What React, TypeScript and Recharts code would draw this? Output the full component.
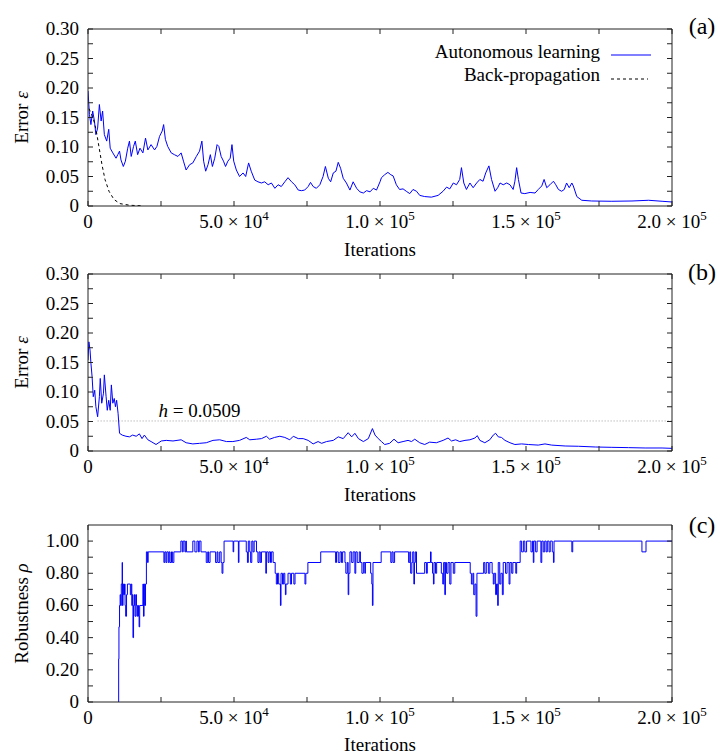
import React from "react";
import { LineChart, Line, XAxis, YAxis, ReferenceLine } from "recharts";

const FONT = "Liberation Serif";
const INK = "#000";
const FRAME = "#222";
const BLUE = "#0000ff";

// (a) autonomous learning error
const autoIterA = [
  0, 500, 1000, 1600, 2200, 2700, 3300, 3900, 4500, 5000,
  5600, 6400, 7100, 7600, 8500, 9600, 10200, 10800, 11300, 12100,
  12800, 13600, 14200, 14800, 15600, 16200, 17000, 17800, 18800, 19700,
  20500, 21600, 22800, 23600, 24500, 25400, 25900, 26500, 27300, 28500,
  29600, 30800, 31900, 32700, 33600, 34800, 35900, 37100, 38200, 39000,
  39600, 40300, 41100, 41900, 42600, 43400, 44200, 44800, 45600, 46400,
  47100, 47900, 48700, 49300, 49900, 50800, 51900, 53100, 54000, 55000,
  55900, 57100, 58200, 59400, 60500, 61700, 62800, 64000, 65100, 66200,
  67400, 68500, 69700, 70800, 72000, 73100, 74200, 75400, 76200, 77100,
  78200, 79400, 80500, 81300, 82300, 83100, 84000, 84900, 85700, 86500,
  87400, 88500, 89700, 90800, 92000, 93100, 94300, 95400, 96600, 97700,
  98800, 100000,
  100500, 101600, 102700, 103700, 104500, 105600, 106700, 107900, 109000, 110200,
  111300, 112500, 113600, 115300, 117600, 119900, 121600, 122800, 123900, 125100,
  126200, 127300, 127900, 128700, 129600, 130800, 131900, 133100, 134200, 135300,
  136200, 137300, 138200, 139400, 140300, 141100, 142200, 143400, 144500, 145600,
  146200, 146800, 147400, 148300, 149600, 151400, 153100, 154200, 155400, 156200,
  157100, 158200, 159400, 160200, 161100, 162200, 163100, 163900, 164800, 165700,
  166200, 167400, 169100, 172500, 179400, 186300, 192000, 196600, 200000,
];
const autoErrA = [
  0.195, 0.155, 0.138, 0.161, 0.144, 0.121, 0.132, 0.172, 0.144, 0.161,
  0.121, 0.11, 0.13, 0.098, 0.09, 0.081, 0.087, 0.093, 0.078, 0.067,
  0.076, 0.098, 0.11, 0.084, 0.101, 0.11, 0.087, 0.098, 0.09, 0.115,
  0.095, 0.104, 0.095, 0.101, 0.118, 0.127, 0.138, 0.113, 0.101, 0.09,
  0.087, 0.084, 0.09, 0.076, 0.061, 0.07, 0.073, 0.084, 0.093, 0.11,
  0.076, 0.059, 0.07, 0.087, 0.067, 0.081, 0.104, 0.101, 0.084, 0.076,
  0.067, 0.076, 0.081, 0.104, 0.076, 0.061, 0.05, 0.056, 0.05, 0.073,
  0.059, 0.044, 0.041, 0.039, 0.041, 0.036, 0.039, 0.03, 0.036, 0.033,
  0.041, 0.048, 0.041, 0.036, 0.027, 0.026, 0.027, 0.033, 0.04, 0.033,
  0.03, 0.036, 0.05, 0.067, 0.047, 0.041, 0.056, 0.059, 0.074, 0.064,
  0.047, 0.039, 0.027, 0.041, 0.03, 0.024, 0.022, 0.026, 0.024, 0.03,
  0.027, 0.041,
  0.048, 0.053, 0.057, 0.053, 0.051, 0.036, 0.028, 0.029, 0.025, 0.021,
  0.028, 0.025, 0.018, 0.016, 0.015, 0.018, 0.025, 0.032, 0.029, 0.039,
  0.036, 0.045, 0.065, 0.039, 0.028, 0.039, 0.031, 0.039, 0.045, 0.042,
  0.056, 0.068, 0.045, 0.025, 0.031, 0.039, 0.036, 0.039, 0.036, 0.028,
  0.042, 0.065, 0.045, 0.022, 0.021, 0.023, 0.022, 0.028, 0.034, 0.045,
  0.031, 0.036, 0.042, 0.036, 0.028, 0.025, 0.028, 0.039, 0.031, 0.039,
  0.034, 0.016, 0.0097, 0.0085, 0.008, 0.0085, 0.0097, 0.008, 0.0068,
];

// (a) back-propagation error
const bpIter = [340, 1700, 2740, 3770, 4790, 5820, 7190, 8900, 10960, 14380, 18840];
const bpErr = [0.165, 0.15, 0.13, 0.1, 0.07, 0.045, 0.025, 0.011, 0.004, 0.0012, 0.0003];

// (b) error with threshold
const iterB = [
  0, 300, 700, 1000, 1400, 1800, 2300, 2700, 3300, 3900,
  4200, 4700, 5300, 5600, 6200, 6600, 7100, 7600, 8000, 8500,
  9000, 9400, 9800, 10300, 10800, 11700, 13000, 14200, 15300, 16500,
  17600, 18500, 19300, 20500, 21600, 23300, 25100, 26800, 29100, 31900,
  33600, 35900, 38200, 40500, 42800, 45100, 47400, 49600, 51900, 54200,
  55400, 57700, 59400, 61100, 62200, 63900, 65700, 67400, 69100, 70300,
  72000, 73700, 75400, 77100, 78800, 80000, 81700, 84000, 85700, 87400,
  89100, 90300, 91400, 92600, 94300, 96000, 97400, 98300, 99400,
  100500, 101600, 103300, 104800, 106200, 107900, 109600, 110800, 111900, 113600,
  115300, 117000, 119300, 121600, 123300, 124500, 125900, 127300, 129100, 130800,
  132500, 133300, 134200, 135900, 137600, 138800, 139600, 140500, 141600, 142800,
  144500, 146200, 148500, 150800, 154200, 156500, 158800, 163400, 168000, 173700,
  179400, 185100, 190800, 196600, 200000,
];
const errB = [
  0.154, 0.185, 0.171, 0.149, 0.126, 0.092, 0.103, 0.075, 0.058, 0.092,
  0.123, 0.081, 0.098, 0.129, 0.092, 0.069, 0.086, 0.069, 0.112, 0.081,
  0.089, 0.075, 0.086, 0.064, 0.03, 0.027, 0.025, 0.024, 0.027, 0.025,
  0.029, 0.021, 0.027, 0.019, 0.016, 0.011, 0.017, 0.018, 0.017, 0.019,
  0.014, 0.012, 0.013, 0.014, 0.018, 0.019, 0.016, 0.016, 0.018, 0.023,
  0.019, 0.02, 0.021, 0.025, 0.02, 0.023, 0.025, 0.023, 0.019, 0.025,
  0.021, 0.021, 0.018, 0.012, 0.016, 0.013, 0.016, 0.018, 0.024, 0.021,
  0.031, 0.024, 0.03, 0.021, 0.016, 0.021, 0.038, 0.027, 0.021,
  0.016, 0.011, 0.013, 0.02, 0.014, 0.016, 0.018, 0.016, 0.02, 0.014,
  0.011, 0.015, 0.014, 0.018, 0.022, 0.017, 0.019, 0.016, 0.018, 0.019,
  0.022, 0.026, 0.018, 0.014, 0.019, 0.027, 0.03, 0.024, 0.023, 0.018,
  0.014, 0.011, 0.012, 0.011, 0.01, 0.012, 0.01, 0.0085, 0.008, 0.0068,
  0.0062, 0.0057, 0.0051, 0.0051, 0.0045,
];
const threshold = 0.0509;

// (c) robustness (step series)
const iterC = [
  10400, 10500, 10600, 10800, 11000, 11200, 11400, 11700, 11800, 12000,
  12200, 12500, 12700, 12900, 13200, 13500, 14500, 14800, 15000, 15200,
  15400, 15600, 15900, 16100, 16400, 16600, 16800, 17000, 17300, 17500,
  17700, 18800, 19000, 19200, 19400, 19700, 20000, 20400, 20600, 26000,
  26300, 26700, 27000, 27500, 27800, 28100, 28600, 28900, 29400, 31800,
  32300, 32600, 33200, 33500, 33700, 35900, 36600, 37300, 37800, 38100,
  38700, 40500, 41000, 41300, 41800, 43700, 44200, 44500, 45100, 45600,
  45900, 46200, 46600, 49700, 49900, 51500, 51700, 54200, 54600, 54900,
  55400, 55700, 56100, 56500, 56900, 57700, 58200, 58600, 59000, 59400,
  60900, 61100, 61700, 62000, 62500, 62800, 63400, 64100, 64500, 64900,
  65300, 65900, 66100, 66600, 67000, 67400, 67600, 67800, 68500, 69300,
  69700, 70500, 70900, 74300, 74600, 75300, 79700, 84800, 85100, 85700,
  86300, 86800, 87200, 88000, 88300, 88800, 89100, 89300, 89700, 90300,
  90800, 91400, 91700, 92200, 92900, 93300, 93800, 94300, 94800, 95000,
  96800, 97200, 97400, 97600, 100400, 103700, 104100, 104500, 105000, 109800,
  110200, 110500, 110900, 111200, 111600, 111800, 112100, 112500, 115300, 115900,
  116200, 117300, 117500, 118000, 118300, 118500, 119000, 119400, 121000, 121500,
  121800, 122200, 122400, 122800, 123300, 123900, 124300, 125100, 125600, 130900,
  131300, 131800, 132100, 132500, 132900, 133200, 135500, 135900, 136400, 137100,
  137600, 138400, 138800, 139100, 139600, 139900, 140300, 140500, 141000, 141400,
  141900, 142200, 143000, 143500, 144200, 144500, 145100, 145500, 146500, 146800,
  148000, 148500, 149100, 149600, 150200, 151700, 152200, 152500, 152700, 153300,
  153800, 155100, 155400, 155900, 156400, 156900, 157300, 157900, 158300, 159000,
  159400, 159600, 165700, 166000, 189700, 191100, 200000,
];
const robC = [
  0, 0.267, 0.467, 0.6, 0.667, 0.6, 0.733, 0.867, 0.6, 0.733,
  0.667, 0.733, 0.6, 0.533, 0.667, 0.733, 0.667, 0.733, 0.6, 0.667,
  0.4, 0.6, 0.667, 0.533, 0.667, 0.6, 0.533, 0.6, 0.533, 0.467,
  0.6, 0.733, 0.533, 0.733, 0.6, 0.733, 0.933, 0.867, 0.933, 0.867,
  0.933, 0.867, 0.933, 0.867, 0.933, 0.867, 0.933, 0.867, 0.933, 1,
  0.933, 1, 0.933, 1, 0.933, 1, 0.933, 1, 0.933, 1,
  0.933, 0.867, 0.933, 0.867, 0.933, 0.867, 0.933, 0.867, 0.933, 0.867,
  0.8, 0.867, 1, 0.933, 1, 0.867, 1, 0.933, 0.867, 1,
  0.933, 0.867, 1, 0.933, 1, 0.933, 0.867, 0.933, 0.867, 0.933,
  0.8, 0.933, 0.867, 0.933, 0.867, 0.933, 0.867, 0.8, 0.733, 0.8,
  0.733, 0.6, 0.8, 0.733, 0.8, 0.733, 0.667, 0.733, 0.8, 0.733,
  0.8, 0.733, 0.8, 0.733, 0.8, 0.867, 0.933, 0.867, 0.933, 0.867,
  0.933, 0.867, 0.933, 0.867, 0.8, 0.867, 0.667, 0.8, 0.933, 0.867,
  0.933, 0.8, 0.933, 0.867, 0.933, 0.867, 0.8, 0.867, 0.8, 0.867,
  0.8, 0.733, 0.6, 0.867, 0.933, 0.867, 0.933, 0.867, 0.933, 0.867,
  0.933, 0.8, 0.867, 0.933, 0.733, 0.867, 0.933, 0.8, 0.867, 0.8,
  0.867, 0.933, 0.867, 0.8, 0.733, 0.867, 0.8, 0.867, 0.8, 0.733,
  0.867, 0.667, 0.867, 0.8, 0.867, 0.733, 0.867, 0.8, 0.867, 0.8,
  0.733, 0.8, 0.667, 0.733, 0.533, 0.8, 0.867, 0.8, 0.867, 0.8,
  0.867, 0.8, 0.733, 0.8, 0.667, 0.733, 0.6, 0.867, 0.733, 0.8,
  0.667, 0.867, 0.8, 0.867, 0.733, 0.867, 0.8, 0.867, 0.8, 0.867,
  1, 0.933, 1, 0.933, 1, 0.933, 1, 0.867, 1, 0.933,
  1, 0.867, 1, 0.933, 1, 0.933, 1, 0.933, 1, 0.933,
  0.867, 1, 0.933, 1, 0.933, 1, 1,
];

// axes
const xTicks = [0, 25000, 50000, 75000, 100000, 125000, 150000, 175000, 200000];
const xLabelAt = [0, 50000, 100000, 150000, 200000];
const xLabelMant = ["0", "5.0", "1.0", "1.5", "2.0"];
const xLabelExp = ["", "4", "5", "5", "5"];
const errTicks = [0, 0.025, 0.05, 0.075, 0.1, 0.125, 0.15, 0.175, 0.2, 0.225, 0.25, 0.275, 0.3];
const errLabels = ["0", "", "0.05", "", "0.10", "", "0.15", "", "0.20", "", "0.25", "", "0.30"];
const robTicks = [0, 0.1, 0.2, 0.3, 0.4, 0.5, 0.6, 0.7, 0.8, 0.9, 1.0];
const robLabels = ["0", "", "0.20", "", "0.40", "", "0.60", "", "0.80", "", "1.00"];
const legendNames = ["Autonomous learning", "Back-propagation"];

const zip = (xs: number[], ys: number[]) => xs.map((x, i) => ({ x, y: ys[i] }));

const TL = 5;
const W = 727;
const H = 260;

const BottomTick = (p: any) => {
  const { x, y, payload } = p;
  const i = xLabelAt.indexOf(payload.value);
  return (
    <g>
      <line x1={x} x2={x} y1={y} y2={y - TL} stroke={FRAME} />
      {i >= 0 && (
        <text className="serif" x={x} y={y + 21.5} textAnchor="middle" fontFamily={FONT} fontSize={19} fill={INK}>
          {xLabelExp[i] ? xLabelMant[i] + " \u00d7 10" : xLabelMant[i]}
          {xLabelExp[i] ? (
            <tspan dy={-8} fontSize={13}>
              {xLabelExp[i]}
            </tspan>
          ) : null}
        </text>
      )}
    </g>
  );
};

const TopTick = (p: any) => <line x1={p.x} x2={p.x} y1={p.y} y2={p.y + TL} stroke={FRAME} />;
const RightTick = (p: any) => <line x1={p.x} x2={p.x - TL} y1={p.y} y2={p.y} stroke={FRAME} />;

const makeLeftTick = (ticks: number[], labels: string[]) => (p: any) => {
  const i = ticks.indexOf(p.payload.value);
  return (
    <g>
      <line x1={p.x} x2={p.x + TL} y1={p.y} y2={p.y} stroke={FRAME} />
      {labels[i] ? (
        <text className="serif" x={p.x - 9} y={p.y + 6} textAnchor="end" fontFamily={FONT} fontSize={19} fill={INK}>
          {labels[i]}
        </text>
      ) : null}
    </g>
  );
};

function Panel({
  top,
  yTicks,
  yLabels,
  yDomain,
  children,
}: {
  top: number;
  yTicks: number[];
  yLabels: string[];
  yDomain: [number, number];
  children: React.ReactNode;
}) {
  return (
    <div style={{ position: "absolute", left: 0, top, width: W, height: H }}>
      <LineChart width={W} height={H} margin={{ top: 28, right: 54, bottom: 0, left: 0 }}>
        <XAxis
          xAxisId="bottom"
          type="number"
          dataKey="x"
          domain={[0, 200000]}
          allowDataOverflow
          ticks={xTicks}
          interval={0}
          height={54}
          tickSize={0}
          tickMargin={0}
          tickLine={false}
          axisLine={{ stroke: FRAME }}
          tick={BottomTick}
        />
        <XAxis
          xAxisId="top"
          orientation="top"
          type="number"
          dataKey="x"
          domain={[0, 200000]}
          allowDataOverflow
          ticks={xTicks}
          interval={0}
          height={1}
          tickSize={0}
          tickMargin={0}
          tickLine={false}
          axisLine={{ stroke: FRAME }}
          tick={TopTick}
        />
        <YAxis
          yAxisId="left"
          type="number"
          domain={yDomain}
          allowDataOverflow
          ticks={yTicks}
          interval={0}
          width={88}
          tickSize={0}
          tickMargin={0}
          tickLine={false}
          axisLine={{ stroke: FRAME }}
          tick={makeLeftTick(yTicks, yLabels)}
        />
        <YAxis
          yAxisId="right"
          orientation="right"
          type="number"
          domain={yDomain}
          allowDataOverflow
          ticks={yTicks}
          interval={0}
          width={1}
          tickSize={0}
          tickMargin={0}
          tickLine={false}
          axisLine={{ stroke: FRAME }}
          tick={RightTick}
        />
        {children}
      </LineChart>
    </div>
  );
}

export default function App() {
  const autoA = zip(autoIterA, autoErrA);
  const bp = zip(bpIter, bpErr);
  const dataB = zip(iterB, errB);
  const dataC = zip(iterC, robC);
  const t = { className: "serif", fontFamily: FONT, fill: INK };
  return (
    <div style={{ position: "relative", marginLeft: -8, marginTop: -8, width: W, height: 754, background: "#fff" }}>
      <style>{".serif, .serif tspan { font-family: 'Liberation Serif', 'Times New Roman', serif !important; }"}</style>
      <Panel top={0} yTicks={errTicks} yLabels={errLabels} yDomain={[0, 0.3]}>
        <Line
          xAxisId="bottom"
          yAxisId="left"
          data={autoA}
          dataKey="y"
          name={legendNames[0]}
          stroke={BLUE}
          strokeWidth={1}
          dot={false}
          activeDot={false}
          isAnimationActive={false}
        />
        <Line
          xAxisId="bottom"
          yAxisId="left"
          data={bp}
          dataKey="y"
          name={legendNames[1]}
          stroke="#000"
          strokeWidth={1}
          strokeDasharray="3 3"
          dot={false}
          activeDot={false}
          isAnimationActive={false}
        />
      </Panel>
      <Panel top={245} yTicks={errTicks} yLabels={errLabels} yDomain={[0, 0.3]}>
        <ReferenceLine
          xAxisId="bottom"
          yAxisId="left"
          segment={[
            { x: 3300, y: threshold },
            { x: 200000, y: threshold },
          ]}
          stroke="#888"
          strokeWidth={0.8}
          strokeDasharray="1 2"
        />
        <Line
          xAxisId="bottom"
          yAxisId="left"
          data={dataB}
          dataKey="y"
          stroke={BLUE}
          strokeWidth={1}
          dot={false}
          activeDot={false}
          isAnimationActive={false}
        />
      </Panel>
      <Panel top={496} yTicks={robTicks} yLabels={robLabels} yDomain={[0, 1.1]}>
        <Line
          xAxisId="bottom"
          yAxisId="left"
          type="stepAfter"
          data={dataC}
          dataKey="y"
          stroke={BLUE}
          strokeWidth={1}
          dot={false}
          activeDot={false}
          isAnimationActive={false}
        />
      </Panel>
      <svg width={W} height={754} style={{ position: "absolute", left: 0, top: 0, pointerEvents: "none" }}>
        <text x={600} y={58} textAnchor="end" fontSize={19} {...t}>
          {legendNames[0]}
        </text>
        <line x1={611} x2={651} y1={55} y2={55} stroke={BLUE} />
        <text x={600} y={81} textAnchor="end" fontSize={19} {...t}>
          {legendNames[1]}
        </text>
        <line x1={611} x2={648} y1={79} y2={79} stroke="#000" strokeDasharray="3 3" />
        <text x={702} y={34} textAnchor="middle" fontSize={24} {...t}>(a)</text>
        <text x={702} y={280} textAnchor="middle" fontSize={24} {...t}>(b)</text>
        <text x={702} y={533} textAnchor="middle" fontSize={24} {...t}>(c)</text>
        <text x={380} y={256} textAnchor="middle" fontSize={19} {...t}>Iterations</text>
        <text x={380} y={501} textAnchor="middle" fontSize={19} {...t}>Iterations</text>
        <text x={380} y={751} textAnchor="middle" fontSize={19} {...t}>Iterations</text>
        <text x={28} y={117.5} textAnchor="middle" fontSize={19} transform="rotate(-90 28 117.5)" {...t}>
          Error <tspan fontStyle="italic">ε</tspan>
        </text>
        <text x={28} y={362.5} textAnchor="middle" fontSize={19} transform="rotate(-90 28 362.5)" {...t}>
          Error <tspan fontStyle="italic">ε</tspan>
        </text>
        <text x={28} y={613.5} textAnchor="middle" fontSize={19} transform="rotate(-90 28 613.5)" {...t}>
          Robustness <tspan fontStyle="italic">ρ</tspan>
        </text>
        <text x={158.5} y={417} fontSize={19} {...t}>
          <tspan fontStyle="italic">h</tspan> = 0.0509
        </text>
      </svg>
    </div>
  );
}
